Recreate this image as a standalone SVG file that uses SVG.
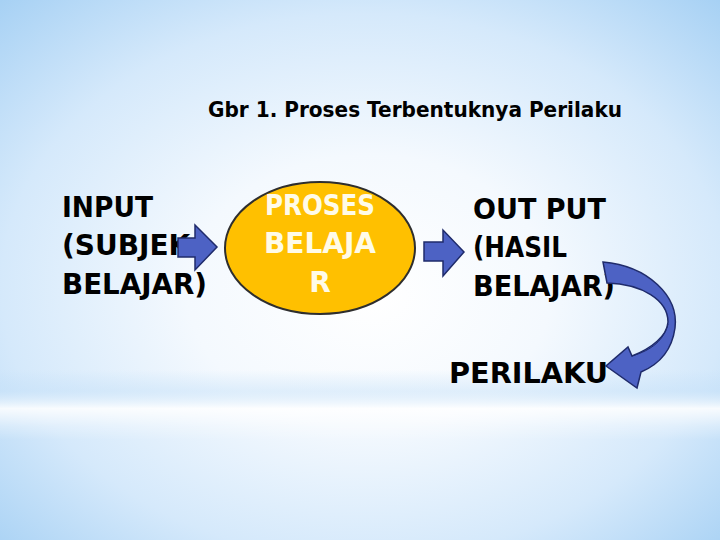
<svg xmlns="http://www.w3.org/2000/svg" width="720" height="540" viewBox="0 0 720 540">
<defs>
<radialGradient id="bg" cx="50%" cy="52%" r="72%" fx="52%" fy="55%">
<stop offset="0" stop-color="#ffffff"/>
<stop offset="0.35" stop-color="#f4f9fe"/>
<stop offset="0.7" stop-color="#d5e9fb"/>
<stop offset="1" stop-color="#a7d1f4"/>
</radialGradient>
<linearGradient id="band" x1="0" y1="0" x2="0" y2="1">
<stop offset="0" stop-color="#bcdcf7" stop-opacity="0"/>
<stop offset="0.3" stop-color="#c4e0f8" stop-opacity="0.45"/>
<stop offset="0.55" stop-color="#ffffff" stop-opacity="0.85"/>
<stop offset="0.8" stop-color="#ffffff" stop-opacity="0.3"/>
<stop offset="1" stop-color="#ffffff" stop-opacity="0"/>
</linearGradient>
<style>
.t{font-family:"DejaVu Sans",Verdana,sans-serif;font-weight:bold;fill:#000}
.big{font-size:28px}
.w{fill:#fffbe8;text-anchor:middle}
.arr{fill:#4d62c4;stroke:#1f2b6b;stroke-width:1.5;stroke-linejoin:miter}
</style>
</defs>
<rect width="720" height="540" fill="url(#bg)"/>
<rect x="0" y="370" width="720" height="70" fill="url(#band)"/>

<g id="title">
<text class="t" x="208" y="116.5" font-size="20.5" textLength="414" lengthAdjust="spacingAndGlyphs">Gbr 1. Proses Terbentuknya Perilaku</text>
</g>

<g id="input">
<text class="t big" x="62" y="217" textLength="91" lengthAdjust="spacingAndGlyphs">INPUT</text>
<text class="t big" x="62" y="255">(SUBJEK</text>
<text class="t big" x="62" y="294" textLength="145" lengthAdjust="spacingAndGlyphs">BELAJAR)</text>
</g>

<g id="proses">
<ellipse cx="320" cy="248" rx="95" ry="66" fill="#ffc000" stroke="#2e2e2e" stroke-width="2"/>
<text class="t big w" x="320" y="215" textLength="110" lengthAdjust="spacingAndGlyphs">PROSES</text>
<text class="t big w" x="320" y="253" textLength="112" lengthAdjust="spacingAndGlyphs">BELAJA</text>
<text class="t big w" x="320" y="292">R</text>
</g>

<g id="output">
<text class="t big" x="473" y="219" textLength="133" lengthAdjust="spacingAndGlyphs">OUT PUT</text>
<text class="t big" x="473" y="257" textLength="94" lengthAdjust="spacingAndGlyphs">(HASIL</text>
<text class="t big" x="473" y="296" textLength="142" lengthAdjust="spacingAndGlyphs">BELAJAR)</text>
</g>

<g id="perilaku">
<text class="t" x="449" y="383" font-size="28" textLength="159" lengthAdjust="spacingAndGlyphs">PERILAKU</text>
</g>

<g id="connectors">
<path class="arr" d="M178 238 L195 238 L195 225 L217 247 L195 270 L195 257 L178 257 Z"/>
<path class="arr" d="M424 242 L443 242 L443 230 L464 252 L443 276 L443 261 L424 261 Z"/>
<path class="arr" d="M603 262 C648 266 679 296 675 328 C672 350 660 364 641 372 L637 388 L606 366 L628 347 L632 356 C652 348 667 336 668 322 C668 300 642 284 607 283 Z"/>
<path d="M632 356 C652 350 664 340 668 324" fill="none" stroke="#1f2b6b" stroke-width="1"/>
</g>
</svg>
